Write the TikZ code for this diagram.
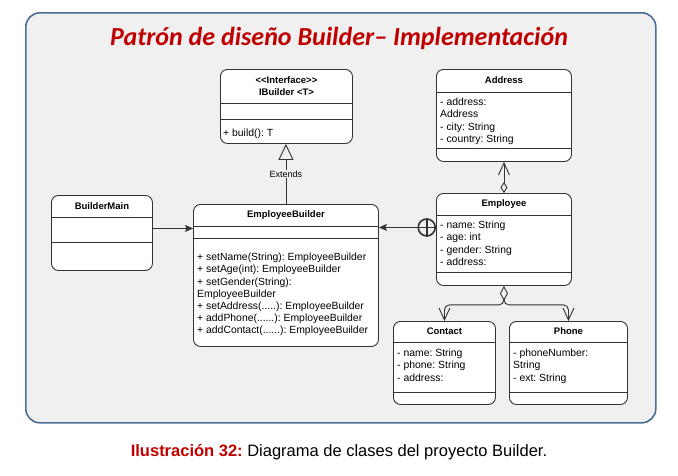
\documentclass[tikz,border=0pt]{standalone}
\usepackage{fontspec}
\setmainfont{Liberation Sans}
\newfontfamily\titlefont{Carlito}
\usepackage{xcolor}
\usetikzlibrary{arrows.meta,calc,positioning}
\definecolor{panelgray}{HTML}{F0F0F0}
\definecolor{panelblue}{HTML}{4A6E96}
\definecolor{titlered}{HTML}{C00000}
\definecolor{linegray}{HTML}{333333}
\frenchspacing

\begin{document}
\begin{tikzpicture}[x=1pt,y=-1pt,
  cls/.style={draw=linegray,fill=white,rounded corners=7pt,line width=0.9pt,anchor=north west,inner sep=0pt},
  sep/.style={draw=linegray,line width=0.9pt},
  hd/.style={font=\fontsize{9.5}{11.5}\selectfont\bfseries,align=center,inner sep=0pt},
  attr/.style={font=\fontsize{10.4}{12.2}\selectfont,align=left,anchor=north west,inner sep=0pt},
  link/.style={draw=linegray,line width=0.9pt}]
  \useasboundingbox (0,0) rectangle (678,475);
  \node[draw=panelblue,fill=panelgray,line width=1.6pt,rounded corners=14pt,anchor=north west,
    minimum width=630pt,minimum height=410pt] (panel) at (25,12) {};
  \node[font=\titlefont\fontsize{26}{30}\selectfont\bfseries\itshape,text=titlered] (title) at (339,38)
    {Patrón de diseño Builder– Implementación};

  % classes
  \node[cls,minimum width=132pt,minimum height=74pt] (ib) at (220,69) {};
  \node[cls,minimum width=185pt,minimum height=142pt] (eb) at (193,204) {};
  \node[cls,minimum width=101pt,minimum height=75pt] (bm) at (51,195) {};
  \node[cls,minimum width=135pt,minimum height=92pt] (adr) at (436,69) {};
  \node[cls,minimum width=135pt,minimum height=92pt] (emp) at (436,193) {};
  \node[cls,minimum width=102pt,minimum height=83pt] (con) at (393,321) {};
  \node[cls,minimum width=118pt,minimum height=83pt] (ph) at (509,321) {};

  % compartments
  \foreach \n/\a/\b in {ib/34/50,eb/22/34,bm/22/47,adr/23/79,emp/22/79,con/21/71,ph/21/71} {
    \draw[sep] ([yshift=-\a pt]\n.north west) -- ([yshift=-\a pt]\n.north east);
    \draw[sep] ([yshift=-\b pt]\n.north west) -- ([yshift=-\b pt]\n.north east);
  }

  % names
  \node[hd] (ib-t) at ([yshift=-17pt]ib.north) {\textless{}\textless{}Interface\textgreater{}\textgreater{}\\IBuilder \textless{}T\textgreater{}};
  \node[hd] (eb-t) at ([yshift=-11pt]eb.north) {EmployeeBuilder};
  \node[hd] (bm-t) at ([yshift=-11pt]bm.north) {BuilderMain};
  \node[hd] (adr-t) at ([yshift=-11pt]adr.north) {Address};
  \node[hd] (emp-t) at ([yshift=-11pt]emp.north) {Employee};
  \node[hd] (con-t) at ([yshift=-10pt]con.north) {Contact};
  \node[hd] (ph-t) at ([yshift=-10pt]ph.north) {Phone};

  % members
  \node[attr] (ib-m) at ([xshift=3pt,yshift=-60pt]ib.north west) {+ build(): T};
  \node[attr] (eb-m) at ([xshift=4pt,yshift=-49pt]eb.north west)
    {+ setName(String): EmployeeBuilder\\+ setAge(int): EmployeeBuilder\\+ setGender(String):\\EmployeeBuilder\\
     + setAddress(.....): EmployeeBuilder\\+ addPhone(......): EmployeeBuilder\\+ addContact(......): EmployeeBuilder};
  \node[attr] (adr-m) at ([xshift=4pt,yshift=-29pt]adr.north west)
    {- address:\\Address\\- city: String\\- country: String};
  \node[attr] (emp-m) at ([xshift=4pt,yshift=-28pt]emp.north west)
    {- name: String\\- age: int\\- gender: String\\- address:};
  \node[attr] (con-m) at ([xshift=4pt,yshift=-28pt]con.north west)
    {- name: String\\- phone: String\\- address:};
  \node[attr] (ph-m) at ([xshift=4pt,yshift=-28pt]ph.north west)
    {- phoneNumber:\\String\\- ext: String};

  % relations
  \draw[link,-{Stealth[length=8pt,width=7pt,inset=1.5pt]}] ([yshift=4.5pt]bm.east) -- ([yshift=4.5pt]bm.east -| eb.west);
  \node[circle,draw=linegray,line width=1.6pt,minimum size=17pt,inner sep=0pt,anchor=east] (nest) at ([yshift=12pt]emp.west) {};
  \draw[linegray,line width=1.6pt] (nest.north) -- (nest.south) (nest.west) -- (nest.east);
  \draw[link,-{Stealth[length=8pt,width=7pt,inset=1.5pt]}] (nest.west) -- (nest.west -| eb.east);
  \draw[link,-{Triangle[open,length=16pt,width=15pt]}] (eb.north) -- (eb.north |- ib.south)
    node[pos=0.5,fill=panelgray,font=\fontsize{9}{10}\selectfont,inner sep=1pt] (ext) {Extends};
  \draw[link,{Diamond[open,length=11pt,width=7pt]}-{Straight Barb[length=12pt,width=11pt]}] (emp.north) -- (adr.south);
  \coordinate (fork) at ($(emp.south)+(0,19)$);
  \draw[link,rounded corners=5pt,{Diamond[open,length=15pt,width=8pt]}-{Straight Barb[length=12pt,width=11pt]}]
    (emp.south) -- (fork) -| (con.north);
  \draw[link,rounded corners=5pt,-{Straight Barb[length=12pt,width=11pt]}]
    ([yshift=-15pt]emp.south) -- (fork) -| (ph.north);

  \node[font=\fontsize{16.5}{20}\selectfont] (caption) at (339,452)
    {{\color{titlered}\bfseries Ilustración 32:} Diagrama de clases del proyecto Builder.};
\end{tikzpicture}
\end{document}
